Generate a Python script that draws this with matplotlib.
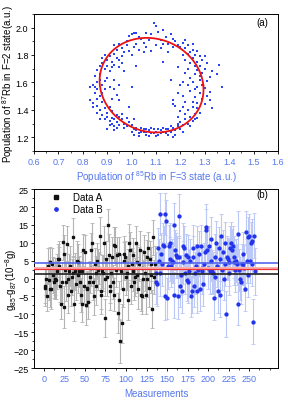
import numpy             as np
import matplotlib
matplotlib.use('Agg')
import matplotlib.pyplot as plt
from matplotlib.ticker import MultipleLocator
from matplotlib.lines  import Line2D


plt.rcParams['font.family'] = ['Liberation Sans', 'DejaVu Sans']
plt.rcParams['mathtext.fontset'] = 'custom'
plt.rcParams['mathtext.rm'] = 'Liberation Sans'
plt.rcParams['mathtext.it'] = 'Liberation Sans'


# (a) population scatter
pop85 = [0.93, 0.95, 0.96, 0.97, 0.98, 0.99, 1.00, 1.01, 1.02, 1.03, 1.04, 1.05, 1.06, 1.07, 1.08, 1.09, 1.10, 1.11, 1.12, 1.13,
         1.14, 1.15, 1.16, 1.17, 1.18, 1.19, 1.20, 1.21, 1.22, 1.23, 1.24, 1.25, 1.27, 1.01, 1.03, 0.99, 0.96, 1.08, 1.12, 1.15,
         1.00, 1.05, 1.10, 1.17, 1.22, 1.02, 0.98, 1.13, 1.06, 1.25,
         0.88, 0.89, 0.90, 0.91, 0.92, 0.93, 0.94, 0.95, 0.95, 0.94, 0.93, 0.92, 0.90, 0.89, 0.88, 0.87, 0.86, 0.87, 0.91, 0.96,
         0.85, 0.86, 0.85, 0.84, 0.86, 0.87, 0.88, 0.89, 0.90, 0.85, 0.87, 0.84, 0.83, 0.84, 0.86, 0.88, 0.87, 0.86, 0.88, 0.89,
         0.90, 0.91, 0.92, 0.89, 0.87, 0.90, 0.88, 0.91, 0.93, 0.89, 0.86, 0.83, 0.92, 0.94, 0.95,
         0.91, 0.92, 0.93, 0.94, 0.95, 0.96, 0.97, 0.92, 0.93, 0.95, 0.96, 0.98, 0.99, 0.90, 0.93, 0.94, 0.97, 0.98, 1.00, 1.01,
         0.91, 0.94,
         1.00, 1.01, 1.02, 1.03, 1.04, 1.05, 1.06, 1.07, 1.08, 1.09, 1.10, 1.11, 1.12, 1.13, 1.14, 1.15, 1.16, 1.17, 1.18, 1.19,
         1.03, 1.05, 1.07, 1.09, 1.11, 1.13, 1.15, 1.17, 1.02, 1.04, 1.06, 1.08, 1.10, 1.12, 1.14, 1.16, 1.06, 1.01, 1.20, 1.18,
         1.21, 1.19,
         1.20, 1.21, 1.22, 1.23, 1.24, 1.25, 1.26, 1.27, 1.22, 1.19, 1.23, 1.25, 1.21, 1.24, 1.26, 1.28, 1.27, 1.18, 1.20, 1.17,
         1.22,
         1.25, 1.26, 1.27, 1.28, 1.29, 1.30, 1.31, 1.32, 1.33, 1.32, 1.30, 1.29, 1.31, 1.28, 1.27, 1.26, 1.25, 1.24, 1.23, 1.24,
         1.26, 1.27, 1.28, 1.29, 1.30, 1.31, 1.29, 1.28, 1.27, 1.26, 1.25, 1.24, 1.23, 1.22, 1.21, 1.23, 1.26, 1.30, 1.35, 1.36,
         1.37, 1.22, 1.21, 1.20, 1.19, 1.21, 1.32, 1.33, 1.28,
         0.97, 1.00, 0.95, 0.99, 1.17, 1.16, 1.13, 1.02, 0.93, 1.19]

pop87 = [1.87, 1.88, 1.85, 1.82, 1.90, 1.94, 1.95, 1.96, 1.96, 1.93, 1.92, 1.89, 1.86, 1.91, 1.95, 2.03, 2.01, 1.97, 1.91, 1.98,
         1.93, 1.88, 1.95, 1.92, 1.90, 1.87, 1.86, 1.89, 1.85, 1.87, 1.82, 1.88, 1.83, 1.86, 1.84, 1.83, 1.79, 1.83, 1.85, 1.82,
         1.80, 1.82, 1.87, 1.86, 1.91, 1.88, 1.87, 1.88, 1.96, 1.84,
         1.78, 1.80, 1.76, 1.79, 1.75, 1.73, 1.78, 1.71, 1.76, 1.84, 1.81, 1.71, 1.72, 1.70, 1.74, 1.72, 1.69, 1.66, 1.68, 1.74,
         1.65, 1.60, 1.57, 1.58, 1.55, 1.62, 1.58, 1.61, 1.63, 1.52, 1.50, 1.45, 1.47, 1.42, 1.43, 1.46, 1.40, 1.38, 1.36, 1.41,
         1.38, 1.42, 1.39, 1.33, 1.33, 1.35, 1.52, 1.57, 1.55, 1.55, 1.48, 1.57, 1.48, 1.51, 1.58,
         1.32, 1.30, 1.33, 1.31, 1.35, 1.33, 1.30, 1.34, 1.28, 1.29, 1.37, 1.34, 1.31, 1.26, 1.25, 1.36, 1.27, 1.28, 1.29, 1.33,
         1.29, 1.27,
         1.24, 1.22, 1.25, 1.23, 1.27, 1.24, 1.22, 1.25, 1.23, 1.26, 1.24, 1.22, 1.25, 1.27, 1.23, 1.26, 1.24, 1.27, 1.25, 1.28,
         1.21, 1.26, 1.21, 1.23, 1.26, 1.24, 1.22, 1.20, 1.27, 1.24, 1.26, 1.27, 1.21, 1.23, 1.26, 1.28, 1.24, 1.26, 1.26, 1.22,
         1.24, 1.30,
         1.31, 1.29, 1.33, 1.30, 1.35, 1.32, 1.37, 1.34, 1.37, 1.35, 1.40, 1.42, 1.42, 1.28, 1.33, 1.38, 1.41, 1.43, 1.39, 1.47,
         1.46,
         1.46, 1.49, 1.45, 1.52, 1.48, 1.44, 1.50, 1.47, 1.41, 1.53, 1.56, 1.58, 1.61, 1.62, 1.57, 1.55, 1.60, 1.54, 1.58, 1.63,
         1.66, 1.69, 1.72, 1.67, 1.70, 1.74, 1.76, 1.79, 1.75, 1.72, 1.78, 1.74, 1.70, 1.76, 1.80, 1.81, 1.80, 1.79, 1.66, 1.73,
         1.57, 1.67, 1.60, 1.58, 1.52, 1.50, 1.64, 1.68, 1.65,
         1.68, 1.57, 1.47, 1.42, 1.44, 1.62, 1.75, 1.72, 1.62, 1.71]

# ellipse fit: centre, half widths, shear of the top/bottom
fit_centre = (1.082, 1.580)
fit_axes   = (0.212, 0.345)
fit_shear  = 0.020


# (b) differential measurements
data_A = [-2, -2.5, 0, -5, 3.5, -0.5, -3, 4.5, -3, 4, 1, -1, 0, 0, -0.5, 2, 5.5, 3.5, 5.5, -2,
          -7, -1, 10.2, -8, 7, 2.5, -1, 9.8, 0, -4.5, 2, 3.5, -3.5, 0.5, 1.5, 11.5, -7, 2, -1.5, 5,
          1, 4.5, 2, -1, -4.5, -7, 2, 8, -2, 7.5, -7.5, -2.5, -3, -6.5, -1, 0.5, 3, 8, 10, -1,
          -5, 4, -2, 1.5, 5, 2.5, 3, 12, -3.5, -4.5, 2, 1.5, 10, -11, 0, 5.5, 0.5, 15, 6.5, -2,
          -3.5, 1.5, 6, -1, 9.5, -4.5, 9, 2.5, 6.5, -9.5, 7, -6, -17.5, 2, -12.5, -3, 7, 5, 6, 0.5,
          1.5, -6, 3.5, 10, 8, -2, 4, 2, 6.5, -1, 0.5, 10, 1, 4.5, -3, 4, 8, -4.5, 3, -5,
          0, 7.5, 1.5, -4.5, 6, 0, 8.5, -2.5, 5.5, 1, 4, -8.5, 11.5, 0.5, 4]

err_A  = [4.8, 5.2, 4.5, 4.1, 5.0, 5.6, 4.9, 4.3, 5.5, 4.6, 5.1, 4.4, 5.8, 4.7, 5.3, 4.9, 4.2, 5.4, 5.0, 4.6,
          4.4, 5.7, 4.9, 5.9, 5.1, 4.6, 5.3, 4.8, 4.5, 5.2, 4.9, 5.6, 4.3, 5.0, 4.7, 5.4, 4.8, 5.1, 4.6, 5.5,
          4.9, 5.2, 4.4, 5.8, 4.7, 5.0, 5.3, 4.6, 5.1, 4.8, 5.5, 4.3, 5.0, 4.9, 5.6, 4.5, 5.2, 4.7, 5.4, 4.9,
          5.1, 4.6, 5.3, 4.8, 5.0, 5.7, 4.4, 5.2, 4.9, 5.5, 4.7, 5.1, 4.6, 5.4, 4.8, 5.0, 5.3, 4.5, 5.9, 4.9,
          5.2, 4.7, 5.5, 4.8, 5.0, 4.6, 5.3, 4.9, 5.1, 5.6, 4.7, 5.2, 6.0, 4.8, 5.4, 4.9, 5.0, 5.3, 4.6, 5.1,
          4.8, 5.5, 4.7, 5.2, 4.9, 5.0, 4.6, 5.4, 4.8, 5.1, 5.3, 4.7, 5.0, 4.9, 5.6, 4.8, 5.2, 4.5, 5.1, 4.9,
          5.3, 4.7, 5.0, 5.4, 4.8, 5.2, 4.6, 5.5, 4.9, 5.1, 4.7, 5.3, 5.0, 4.8, 5.2]

data_B = [-1, 1.5, -1.5, 8.5, 5, 18, 1.5, 7, 4, 9.5, 9, -5, 18, 16, -5.5, 3.5, 9, 10, 5.5, 3.5,
          5, 4.5, -4.5, 15, 8, 6.5, 6, -5, 17.5, 6, -2, 1, -3.5, 4.5, 9, 8.5, 1.5, 6.5, -0.5, 6,
          -1, 2, 5, -5, -3.5, 6, 8.5, -2, 1.5, 3.5, 9, -3.5, 2.5, 7, -3, 9, 2, 3, -1.5, 4,
          7.5, 14.5, 13.5, 8, 3, 9, 2, 5, 11, 2, 1.5, -5.5, 0.5, 6, 10, 3.5, -3.5, 8.5, -4.5, 5.5,
          12, 2.5, 7.5, 0, 4, 10, -10, 6, 5.5, 1.5, 4.5, 8.5, 10, 8, 9, 4.5, 6, 2.5, 5, 4,
          -7, 12.5, 2.5, 0, -1, 4, 7, 4, 3, -3, 13, 5, 1, 11.5, 12, 5, 10, 10.5, 4, -12,
          12, 2]

err_B  = [6.0, 5.8, 6.3, 5.6, 6.1, 5.9, 6.4, 5.7, 6.2, 6.0, 5.8, 6.5, 5.9, 6.1, 5.7, 6.3, 6.0, 5.6, 6.2, 5.9,
          6.1, 5.8, 6.4, 6.0, 5.7, 6.2, 5.9, 6.3, 6.1, 5.8, 6.0, 5.6, 6.2, 5.9, 6.4, 6.1, 5.7, 6.0, 5.8, 6.3,
          5.9, 6.2, 6.0, 5.7, 6.1, 5.8, 6.4, 6.0, 5.9, 6.2, 5.6, 6.1, 5.8, 6.3, 6.0, 5.9, 6.2, 5.7, 6.1, 6.0,
          5.8, 6.4, 5.9, 6.1, 6.0, 5.7, 6.3, 5.8, 6.2, 6.0, 5.9, 6.1, 5.6, 6.4, 6.0, 5.8, 6.2, 5.9, 6.1, 6.3,
          6.0, 5.7, 6.2, 5.9, 6.1, 5.8, 6.4, 6.0, 5.9, 6.2, 6.5, 6.1, 5.8, 6.0, 5.7, 6.3, 5.9, 6.2, 6.0, 5.8,
          6.1, 6.3, 5.9, 6.0, 6.2, 5.7, 6.1, 5.8, 6.4, 6.0, 5.9, 6.2, 6.1, 5.8, 6.0, 6.3, 5.9, 6.1, 6.0, 6.4,
          6.2, 6.5]

mean_B   = 4.3
mean_all = 2.8
sd_all   = 0.35
mean_A   = 1.4


blue_txt = '#5577ee'


fig = plt.figure(figsize = (2.88, 4.02), dpi = 100)


# (a)
# ---

ax1 = fig.add_axes([0.118, 0.622, 0.847, 0.341])

ax1.plot(pop85, pop87, 's', color = '#2a45f0', markersize = 1.8, markeredgewidth = 0)

t = np.linspace(0, 2 * np.pi, 300)

ax1.plot(fit_centre[0] + fit_axes[0] * np.cos(t) - fit_shear * np.sin(t),
         fit_centre[1] + fit_axes[1] * np.sin(t), color = '#ee1111', lw = 1.3)

ax1.set_xlim([0.6, 1.6])
ax1.set_ylim([1.1, 2.1])

ax1.set_xticks(np.arange(0.6, 1.61, 0.1))
ax1.set_yticks([1.2, 1.4, 1.6, 1.8, 2.0])
ax1.xaxis.set_minor_locator(MultipleLocator(0.05))
ax1.yaxis.set_minor_locator(MultipleLocator(0.1))

ax1.set_xlabel('Population of $^{85}$Rb in F=3 state (a.u.)', color = blue_txt, fontsize = 7, labelpad = 2)
ax1.set_ylabel('Population of $^{87}$Rb in F=2 state(a.u.)', fontsize = 7)
ax1.yaxis.set_label_coords(-0.075, 0.5)

ax1.text(0.96, 0.94, '(a)', transform = ax1.transAxes, ha = 'right', va = 'center', fontsize = 7)


# (b)
# ---

ax2 = fig.add_axes([0.118, 0.082, 0.847, 0.445])

m_A = np.arange(1, len(data_A) + 1)
m_B = np.arange(len(data_A) + 1, len(data_A) + len(data_B) + 1)

ax2.errorbar(m_A, data_A, yerr = err_A, fmt = 's', color = '#111111', markersize = 1.9,
             ecolor = '#b4b4b4', elinewidth = 0.8, capsize = 1.2, capthick = 0.6)

ax2.errorbar(m_B, data_B, yerr = err_B, fmt = 'o', color = '#2233ee', markersize = 2.1,
             ecolor = '#bcc8f6', elinewidth = 0.8, capsize = 1.2, capthick = 0.6)

ax2.axhspan(mean_all - sd_all, mean_all + sd_all, color = '#f6b0b0', lw = 0, zorder = 3)
ax2.axhline(mean_B,   color = '#5566ee', lw = 1.2, zorder = 4)
ax2.axhline(mean_all, color = '#ee3333', lw = 0.9, zorder = 4)
ax2.axhline(mean_A,   color = '#222222', lw = 1.2, zorder = 4)

ax2.set_xlim([-12, 285])
ax2.set_ylim([-25, 25])

ax2.set_xticks(np.arange(0, 251, 25))
ax2.set_yticks(np.arange(-25, 26, 5))
ax2.xaxis.set_minor_locator(MultipleLocator(12.5))
ax2.yaxis.set_minor_locator(MultipleLocator(2.5))

ax2.set_xlabel('Measurements', color = blue_txt, fontsize = 7, labelpad = 4)
ax2.set_ylabel('g$_{85}$-g$_{87}$(10$^{-8}$g)', fontsize = 7)
ax2.yaxis.set_label_coords(-0.06, 0.5)

handles = [Line2D([], [], ls = 'none', marker = 's', color = '#111111', markersize = 2.2),
           Line2D([], [], ls = 'none', marker = 'o', color = '#2233ee', markersize = 2.4)]

ax2.legend(handles, ['Data A', 'Data B'], loc = 'upper left', frameon = False, fontsize = 7,
           handletextpad = 0.8, borderaxespad = 0.1, labelspacing = 0.2, handlelength = 2.0,
           bbox_to_anchor = (0.03, 1.01))

ax2.text(0.96, 0.975, '(b)', transform = ax2.transAxes, ha = 'right', va = 'center', fontsize = 7)


for ax in (ax1, ax2):

    ax.tick_params(which = 'both', direction = 'out', top = False, right = False, labelsize = 6.5, pad = 1.5)
    ax.tick_params(which = 'major', length = 2.5, width = 0.6)
    ax.tick_params(which = 'minor', length = 1.5, width = 0.5)
    ax.tick_params(axis = 'x', labelcolor = blue_txt)

    for s in ax.spines.values():
        s.set_linewidth(0.7)


fig.savefig('out.png', dpi = 100)
